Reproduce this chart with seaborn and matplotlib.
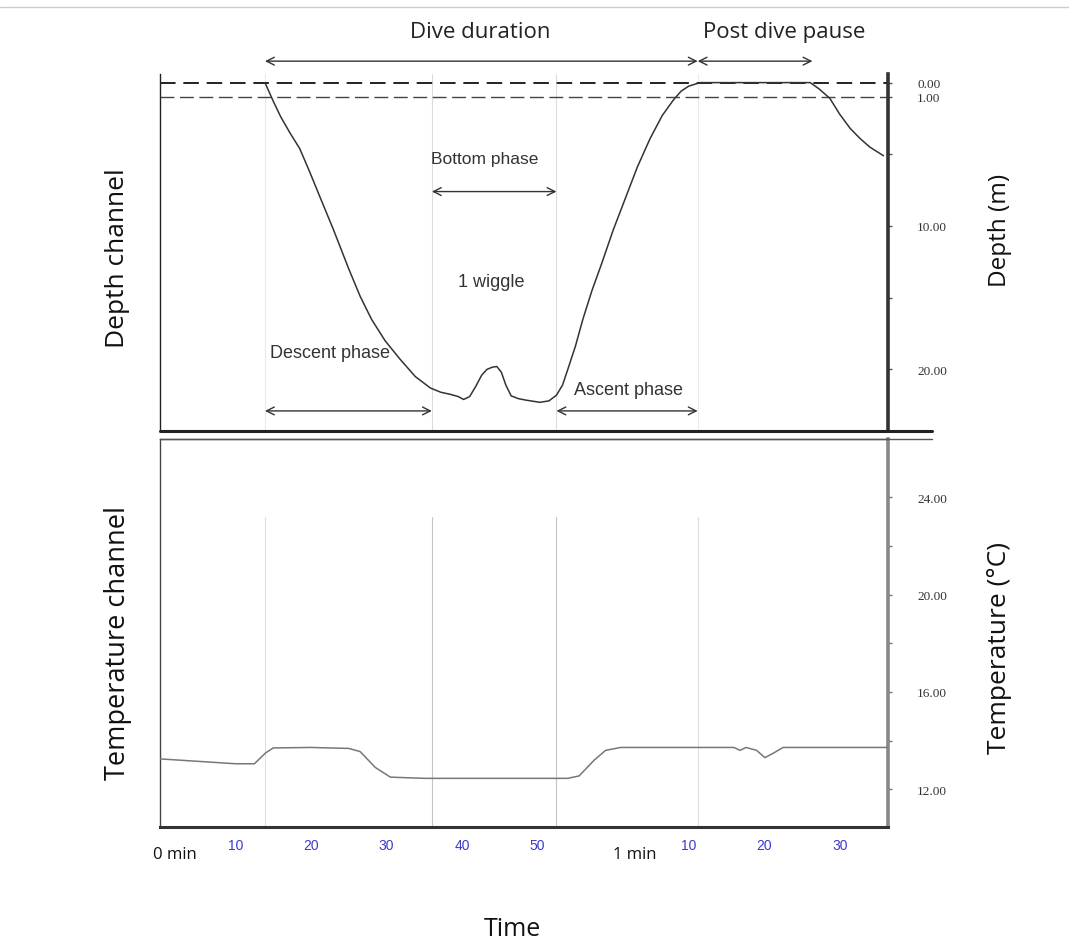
import matplotlib
matplotlib.use("Agg")
import matplotlib.pyplot as plt
import seaborn as sns
import pandas as pd
from matplotlib.lines import Line2D

# ---------------- data ----------------
depth_time = [13.9, 15.0, 16.0, 17.2, 18.5, 19.8, 21.2, 23.0, 25.0, 26.5, 28.0, 29.8, 31.8,
              33.8, 35.8, 37.2, 38.5, 39.5, 40.2, 41.0, 41.8, 42.6, 43.3, 44.0, 44.6, 45.2,
              45.8, 46.5, 47.5, 48.5, 50.3, 51.5, 52.5, 53.3, 54.0, 55.0, 56.0, 57.2, 58.5,
              60.0, 61.6, 63.2, 64.9, 66.5, 68.0, 69.0, 70.0, 71.5, 80.0, 86.1, 87.3, 88.7,
              90.0, 91.4, 92.7, 94.0, 95.8]
depth_m = [0.0, 1.3, 2.4, 3.5, 4.6, 6.2, 8.0, 10.3, 13.0, 14.9, 16.5, 18.0, 19.3,
           20.5, 21.3, 21.6, 21.75, 21.9, 22.1, 21.9, 21.2, 20.4, 20.0, 19.85, 19.8, 20.2,
           21.1, 21.85, 22.05, 22.15, 22.3, 22.2, 21.8, 21.1, 20.0, 18.4, 16.5, 14.5, 12.6,
           10.3, 8.1, 5.9, 3.9, 2.3, 1.2, 0.6, 0.25, 0.0, 0.0, 0.0, 0.45, 1.1,
           2.2, 3.2, 3.9, 4.5, 5.1]

temp_time = [0, 5, 10, 12.5, 14.0, 15.0, 20, 25, 26.5, 28.5, 30.5, 35, 45, 54, 55.5,
             57.5, 59, 61, 70, 76, 76.8, 77.6, 79, 80.1, 81.3, 82.5, 96.4]
temp_c = [13.25, 13.15, 13.05, 13.05, 13.5, 13.7, 13.72, 13.68, 13.55, 12.9, 12.5, 12.45,
          12.45, 12.45, 12.55, 13.2, 13.6, 13.72, 13.72, 13.72, 13.6, 13.72, 13.6, 13.3,
          13.5, 13.72, 13.72]

depth_ticks = [0, 1, 10, 20]
depth_ticklabels = ["0.00", "1.00", "10.00", "20.00"]
temp_ticks = [12, 16, 20, 24]
temp_ticklabels = ["12.00", "16.00", "20.00", "24.00"]
time_ticks = [10, 20, 30, 40, 50, 70, 80, 90]
time_ticklabels = ["10", "20", "30", "40", "50", "10", "20", "30"]
minute_ticks = [0, 60]
minute_labels = ["0 min", "1 min"]

dive_start, bottom_start, bottom_end, dive_end, pause_end = 13.9, 36.0, 52.5, 71.2, 86.4

# ---------------- figure ----------------
sns.set_theme(style="white")
plt.rcParams['font.family'] = ['Liberation Sans', 'DejaVu Sans']

W, H = 1069, 945
fig = plt.figure(figsize=(W / 100, H / 100), dpi=100)

def fx(px):
    return px / W

def fy(py):
    return 1 - py / H

L, R = 160, 888
ax1 = fig.add_axes([fx(L), fy(432), fx(R) - fx(L), fy(75) - fy(432)])
ax2 = fig.add_axes([fx(L), fy(828), fx(R) - fx(L), fy(440) - fy(828)])

xmin, xmax = 0, 96.4
df_d = pd.DataFrame({"t": depth_time, "d": depth_m})
df_t = pd.DataFrame({"t": temp_time, "c": temp_c})

# phase guide lines
for t, a in [(dive_start, 0.2), (bottom_start, 0.35), (bottom_end, 0.35), (dive_end, 0.2)]:
    ax1.axvline(t, color="#999999", lw=0.8, alpha=a, zorder=0)
    ax2.axvline(t, ymax=0.80, color="#999999", lw=0.8, alpha=a * 1.6, zorder=0)

# depth panel
ax1.axhline(0, color="#222222", lw=1.4, ls=(0, (8, 4)), zorder=1)
ax1.axhline(1, color="#444444", lw=1.0, ls=(0, (10, 4)), zorder=1)
sns.lineplot(data=df_d, x="t", y="d", ax=ax1, color="#333333", lw=1.1, zorder=3)
ax1.set_xlim(xmin, xmax)
ax1.set_ylim(24.3, -0.6)
ax1.set_xticks([])
ax1.set_xlabel("")
ax1.set_ylabel("")
ax1.yaxis.tick_right()
ax1.set_yticks(depth_ticks)
ax1.set_yticklabels(depth_ticklabels, family="Liberation Serif", fontsize=9.5, color="#333333")
ax1.set_yticks([5, 15], minor=True)
ax1.tick_params(axis="y", which="both", direction="out", length=3, width=1, color="#555555",
                pad=18, right=True, left=False)

ax1.spines["top"].set_visible(False)
ax1.spines["left"].set_color("#222222")
ax1.spines["left"].set_linewidth(1.0)
ax1.spines["right"].set_color("#333333")
ax1.spines["right"].set_linewidth(2.6)
ax1.spines["bottom"].set_visible(False)

# temperature panel
sns.lineplot(data=df_t, x="t", y="c", ax=ax2, color="#777777", lw=1.1, zorder=3)
ax2.set_xlim(xmin, xmax)
ax2.set_ylim(10.45, 26.4)
ax2.set_xlabel("")
ax2.set_ylabel("")
ax2.yaxis.tick_right()
ax2.set_yticks(temp_ticks)
ax2.set_yticklabels(temp_ticklabels, family="Liberation Serif", fontsize=9.5, color="#333333")
ax2.set_yticks([14, 18, 22], minor=True)
ax2.tick_params(axis="y", which="both", direction="out", length=3, width=1, color="#777777",
                pad=18, right=True, left=False)
ax2.set_xticks(time_ticks)
ax2.set_xticklabels(time_ticklabels, fontsize=10, color="#3a3acc")
ax2.tick_params(axis="x", direction="out", length=0, pad=8)
for t, lab in zip(minute_ticks, minute_labels):
    ax2.text(t - (0.9 if t == 0 else 0.0), -0.07, lab, transform=ax2.get_xaxis_transform(),
             ha="left", va="center", fontsize=12, color="#111111", family="Open Sans")
ax2.spines["top"].set_color("#555555")
ax2.spines["top"].set_linewidth(1.0)
ax2.spines["left"].set_color("#444444")
ax2.spines["left"].set_linewidth(1.0)
ax2.spines["bottom"].set_color("#333333")
ax2.spines["bottom"].set_linewidth(2.2)
ax2.spines["right"].set_color("#888888")
ax2.spines["right"].set_linewidth(2.6)

# panel separator lines extending to the right
fig.add_artist(Line2D([fx(L), fx(932)], [fy(432), fy(432)], color="#222222", lw=2.2))
fig.add_artist(Line2D([fx(L), fx(932)], [fy(440), fy(440)], color="#555555", lw=1.0))
fig.add_artist(Line2D([0, 1], [fy(8), fy(8)], color="#cccccc", lw=1.0))

# ---------------- annotations ----------------
arrow_kw = dict(arrowstyle="<->", color="#333333", lw=1.0, mutation_scale=14, shrinkA=0, shrinkB=0)
xt = ax1.get_xaxis_transform()
ax1.annotate("", xy=(dive_start, 1.036), xytext=(dive_end, 1.036), xycoords=xt, textcoords=xt,
             arrowprops=arrow_kw, annotation_clip=False)
ax1.annotate("", xy=(dive_end, 1.036), xytext=(pause_end, 1.036), xycoords=xt, textcoords=xt,
             arrowprops=arrow_kw, annotation_clip=False)
ax1.text(42.4, 1.118, "Dive duration", transform=xt, ha="center", va="center",
         fontsize=16, family="Open Sans", color="#222222")
ax1.text(82.6, 1.118, "Post dive pause", transform=xt, ha="center", va="center",
         fontsize=16, family="Open Sans", color="#222222")

ax1.annotate("", xy=(bottom_start, 7.6), xytext=(bottom_end, 7.6), arrowprops=arrow_kw)
ax1.text(43.0, 5.3, "Bottom phase", ha="center", va="center", fontsize=12.5, color="#333333")
ax1.text(43.8, 13.9, "1 wiggle", ha="center", va="center", fontsize=13, color="#333333")
ax1.annotate("", xy=(dive_start, 22.9), xytext=(bottom_start, 22.9), arrowprops=arrow_kw)
ax1.text(22.5, 18.8, "Descent phase", ha="center", va="center", fontsize=13, color="#333333")
ax1.annotate("", xy=(bottom_end, 22.9), xytext=(dive_end, 22.9), arrowprops=arrow_kw)
ax1.text(62.0, 21.4, "Ascent phase", ha="center", va="center", fontsize=13, color="#333333")

# axis titles
fig.text(fx(118), fy(258), "Depth channel", rotation=90, ha="center", va="center",
         fontsize=19, family="Open Sans", color="#111111")
fig.text(fx(118), fy(643), "Temperature channel", rotation=90, ha="center", va="center",
         fontsize=19.5, family="Open Sans", color="#111111")
fig.text(fx(1000), fy(230), "Depth (m)", rotation=90, ha="center", va="center",
         fontsize=17.5, family="Open Sans", color="#111111")
fig.text(fx(1000), fy(648), "Temperature (°C)", rotation=90, ha="center", va="center",
         fontsize=19, family="Open Sans", color="#111111")
fig.text(fx(512), fy(930), "Time", ha="center", va="center",
         fontsize=18, family="Open Sans", color="#111111")

fig.savefig("out.png", dpi=100, facecolor="white")
